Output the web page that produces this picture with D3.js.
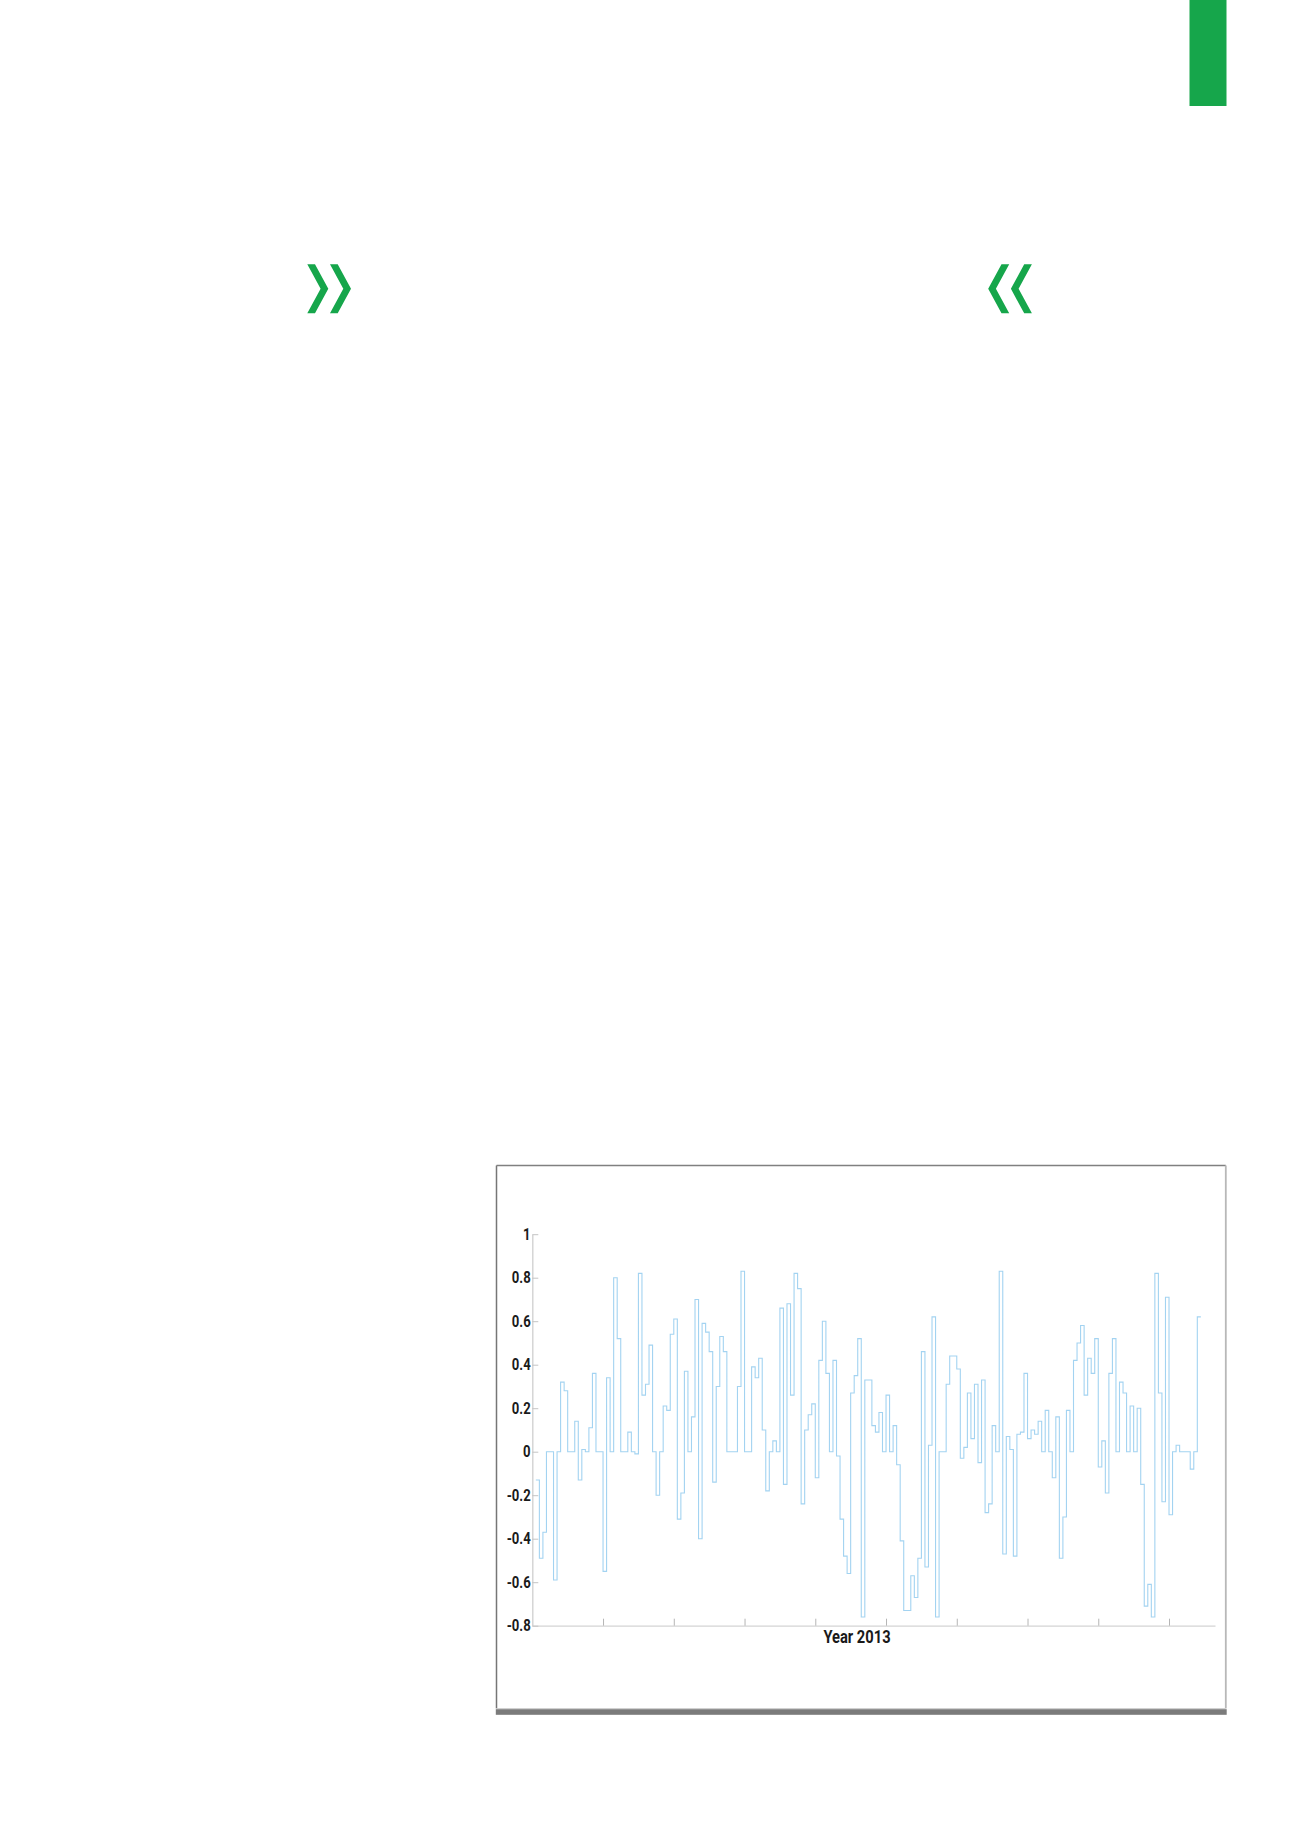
<!DOCTYPE html>
<html>
<head>
<meta charset="utf-8">
<script src="https://cdn.jsdelivr.net/npm/d3@7"></script>
<style>
    body { margin: 0; background: #fff; }
    .axis text { font-family: Roboto, "Liberation Sans", sans-serif; font-weight: bold; fill: #1a1a1a; }
    .axis path, .axis line { stroke: #c8c8c8; }
</style>
</head>
<body>
<script>
//Data
//每一格的數值 (step), 由左到右
const stepValues = [
    -0.13, -0.49, -0.37, 0, 0, -0.59, 0, 0.32, 0.28, 0,
    0, 0.14, -0.13, 0.01, 0, 0.11, 0.36, 0, 0, -0.55,
    0.34, 0, 0.80, 0.52, 0, 0, 0.09, 0, -0.01, 0.82,
    0.26, 0.31, 0.49, 0, -0.20, 0, 0.21, 0.19, 0.54, 0.61,
    -0.31, -0.19, 0.37, 0, 0.16, 0.70, -0.40, 0.59, 0.55, 0.46,
    -0.14, 0.30, 0.53, 0.46, 0, 0, 0, 0.30, 0.83, 0,
    0, 0.39, 0.34, 0.43, 0.10, -0.18, 0, 0.05, 0, 0.66,
    -0.15, 0.68, 0.26, 0.82, 0.75, -0.24, 0.10, 0.17, 0.22, -0.12,
    0.42, 0.60, 0.36, 0, 0.42, -0.02, -0.31, -0.48, -0.56, 0.27,
    0.35, 0.52, -0.76, 0.33, 0.33, 0.12, 0.09, 0.18, 0, 0.26,
    0, 0.12, -0.06, -0.41, -0.73, -0.73, -0.57, -0.67, -0.49, 0.46,
    -0.53, 0.03, 0.62, -0.76, 0, 0, 0.31, 0.44, 0.44, 0.38,
    -0.03, 0.02, 0.27, 0.06, 0.31, -0.05, 0.33, -0.28, -0.24, 0.12,
    0, 0.83, -0.47, 0.07, 0.01, -0.48, 0.08, 0.09, 0.36, 0.06,
    0.10, 0.08, 0.14, 0, 0.19, 0, -0.12, 0.16, -0.49, -0.30,
    0.19, 0, 0.42, 0.50, 0.58, 0.26, 0.43, 0.36, 0.52, -0.07,
    0.05, -0.19, 0.36, 0.52, 0, 0.32, 0.27, 0, 0.21, 0,
    0.20, -0.15, -0.71, -0.61, -0.76, 0.82, 0.27, -0.23, 0.71, -0.29,
    0, 0.03, 0, 0, 0, -0.08, 0, 0.62
];
const xTickValues = [20, 40, 60, 80, 100, 120, 140, 160, 180];
const yTickValues = [-0.8, -0.6, -0.4, -0.2, 0, 0.2, 0.4, 0.6, 0.8, 1];
const yTickLabels = ['-0.8', '-0.6', '-0.4', '-0.2', '0', '0.2', '0.4', '0.6', '0.8', '1'];
const xTitle = 'Year 2013';

const green = '#16a64b';
const labelFont = 'Roboto, "Liberation Sans", sans-serif';

const svg = d3.select('body').append('svg')
    .attr('width', 1300).attr('height', 1839);

// 右上角綠色色塊
svg.append('rect')
    .attr('x', 1189.5).attr('y', 0)
    .attr('width', 37).attr('height', 106)
    .style('fill', green);

// 引號 » «
function chevrons(g) {
    const shape = 'M307.3,264.3 L315,264.3 L328.3,288.8 L315,313.3 L307.3,313.3 L320.6,288.8 Z';
    g.append('path').attr('d', shape).style('fill', green);
    g.append('path').attr('d', shape).attr('transform', 'translate(22.7,0)').style('fill', green);
}
svg.append('g').call(chevrons);
svg.append('g').attr('transform', 'translate(1339.2,0) scale(-1,1)').call(chevrons);

// 圖框
const frame = { left: 496.5, top: 1165.5, right: 1225.8, bottom: 1708.5 };
svg.append('line')
    .attr('x1', frame.left).attr('y1', frame.top).attr('x2', frame.right).attr('y2', frame.top)
    .style('stroke', '#808080').style('stroke-width', 1.3);
svg.append('line')
    .attr('x1', frame.left).attr('y1', frame.top).attr('x2', frame.left).attr('y2', frame.bottom)
    .style('stroke', '#767676').style('stroke-width', 1.5);
svg.append('line')
    .attr('x1', frame.right).attr('y1', frame.top).attr('x2', frame.right).attr('y2', frame.bottom)
    .style('stroke', '#b8b8b8').style('stroke-width', 1.8);
svg.append('line')
    .attr('x1', frame.left).attr('y1', frame.bottom).attr('x2', frame.right).attr('y2', frame.bottom)
    .style('stroke', '#d0d0d0').style('stroke-width', 1);
svg.append('rect')
    .attr('x', frame.left - 0.7).attr('y', 1709.2)
    .attr('width', frame.right - frame.left + 1.6).attr('height', 5.6)
    .style('fill', '#7b7b7b');

// Scale
const xScale = d3.scaleLinear().domain([0, 193]).range([532.3, 1215]);
const yScale = d3.scaleLinear().domain([-0.8, 1]).range([1625.7, 1234.2]);

// Axis
const xAxis = d3.axisBottom(xScale).tickValues(xTickValues).tickFormat('')
    .tickSizeInner(-7).tickSizeOuter(0);
svg.append('g').attr('class', 'x axis')
    .attr('transform', `translate(0,${yScale(-0.8)})`)
    .call(xAxis)
    .call(g => g.select('.domain').style('stroke', '#d4d4d4').style('stroke-width', 1.3))
    .call(g => g.selectAll('.tick line').style('stroke', '#b5b5b5'));

const yAxis = d3.axisLeft(yScale).tickValues(yTickValues)
    .tickFormat((d, i) => yTickLabels[i])
    .tickSizeInner(-6).tickSizeOuter(0).tickPadding(2);
svg.append('g').attr('class', 'y axis')
    .attr('transform', `translate(${xScale(0)},0)`)
    .call(yAxis)
    .call(g => g.select('.domain').style('stroke', '#cfcfcf').style('stroke-width', 1.3))
    .call(g => g.selectAll('.tick line').style('stroke', '#c4c4c4'))
    .call(g => g.selectAll('.tick text')
        .style('font-family', labelFont).style('font-size', '16px')
        .attr('transform', 'scale(0.82,1)'));

// 標題縮窄 (condensed)
svg.append('text')
    .attr('transform', 'translate(857,1642.7) scale(0.84,1)')
    .attr('text-anchor', 'middle')
    .style('font-family', labelFont)
    .style('font-weight', 'bold').style('font-size', '17.5px').style('fill', '#1a1a1a')
    .text(xTitle);

// Step line
const points = stepValues.map((v, i) => [i + 1, v]);
points.push([stepValues.length + 1, stepValues[stepValues.length - 1]]);

const line = d3.line()
    .x(d => xScale(d[0]))
    .y(d => yScale(d[1]))
    .curve(d3.curveStepAfter);

svg.append('path').datum(points)
    .attr('d', line)
    .style('fill', 'none')
    .style('stroke', '#a3d3f1')
    .style('stroke-width', 1.1);
</script>
</body>
</html>
